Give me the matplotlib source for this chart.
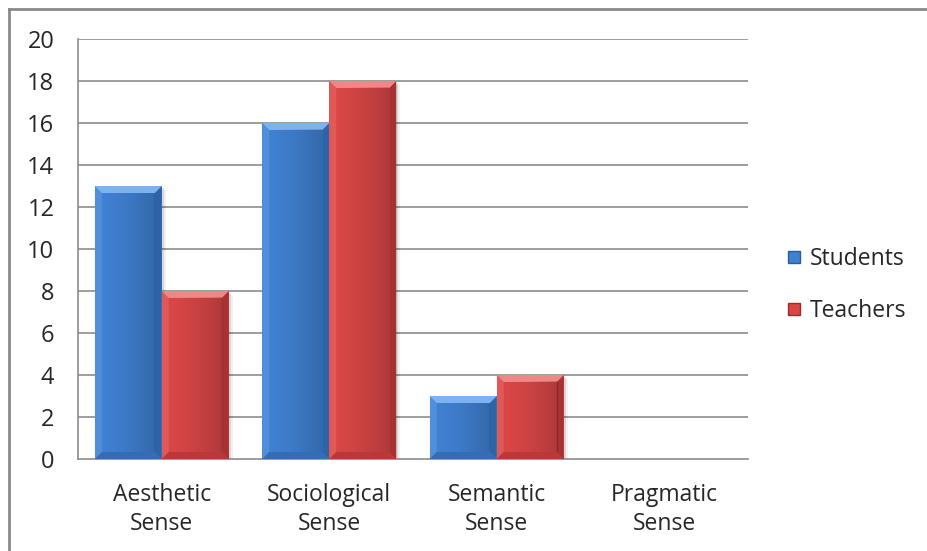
import numpy as np
import matplotlib
matplotlib.use("Agg")
import matplotlib.pyplot as plt
from matplotlib.patches import Polygon
from matplotlib.lines import Line2D

categories = ["Aesthetic\nSense", "Sociological\nSense", "Semantic\nSense", "Pragmatic\nSense"]
students = [13, 16, 3, 0]
teachers = [8, 18, 4, 0]
series_names = ["Students", "Teachers"]
y_ticks = [0, 2, 4, 6, 8, 10, 12, 14, 16, 18, 20]

# face, light bevel, dark bevel for each series
palette = {
    "Students": ("#4080d0", "#7cb2f2", "#2a5c9e"),
    "Teachers": ("#d84646", "#f08686", "#9c2c2c"),
}

plt.rcParams["font.family"] = ["Open Sans", "DejaVu Sans"]
text_color = "#262626"
grid_color = "#8c8c8c"

fig = plt.figure(figsize=(9.28, 5.51), dpi=100)
ax = fig.add_axes([78 / 928, 92 / 551, 670 / 928, 420 / 551])

x = np.arange(len(categories))
width = 0.4
ax.set_xlim(-0.5, len(categories) - 0.5)
ax.set_ylim(0, 20)


def beveled_bar(ax, xc, h, colors, bev_px=7):
    if h <= 0:
        return
    face, light, dark = colors
    to_disp = ax.transData.transform
    to_data = ax.transData.inverted().transform
    (x0, y0), (x1, y1) = to_disp([(xc - width / 2, 0), (xc + width / 2, h)])
    b = min(bev_px, (y1 - y0) / 2)
    # soft shadow behind the bar
    for k, a in ((4, 0.06), (2, 0.10)):
        sh = to_data([(x0 + k, y0 - k), (x1 + k, y0 - k), (x1 + k, y1 - k), (x0 + k, y1 - k)])
        ax.add_patch(Polygon(sh, closed=True, facecolor="black", alpha=a, lw=0, zorder=2))
    pts = {
        "body": [(x0, y0), (x1, y0), (x1, y1), (x0, y1)],
        "top": [(x0, y1), (x1, y1), (x1 - b, y1 - b), (x0 + b, y1 - b)],
        "right": [(x1, y1), (x1, y0), (x1 - b, y0 + b), (x1 - b, y1 - b)],
        "left": [(x0, y1), (x0 + b, y1 - b), (x0 + b, y0 + b), (x0, y0)],
        "bottom": [(x0, y0), (x1, y0), (x1 - b, y0 + b), (x0 + b, y0 + b)],
    }
    fills = {"body": (face, 1), "top": (light, 1), "right": (dark, 0.8),
             "left": (light, 0.3), "bottom": (dark, 0.5)}
    for key in ["body", "left", "bottom", "right", "top"]:
        c, a = fills[key]
        ax.add_patch(Polygon(to_data(pts[key]), closed=True, facecolor=c, alpha=a,
                             lw=0, zorder=3))
    # face gets a little darker toward its right side
    shade = np.zeros((1, 64, 4))
    shade[..., 3] = np.linspace(0, 0.18, 64) ** 1.5 / 0.18 ** 0.5
    (dx0, dy0), (dx1, dy1) = to_data([(x0 + b, y0 + b), (x1 - b, y1 - b)])
    ax.imshow(shade, extent=(dx0, dx1, dy0, dy1), aspect="auto",
              zorder=3.5, interpolation="bilinear")


for i in range(len(categories)):
    beveled_bar(ax, x[i] - width / 2, students[i], palette["Students"])
    beveled_bar(ax, x[i] + width / 2, teachers[i], palette["Teachers"])

ax.set_xlim(-0.5, len(categories) - 0.5)
ax.set_ylim(0, 20)
ax.set_yticks(y_ticks)
ax.set_xticks(x)
ax.set_xticklabels(categories, fontsize=16.5, color=text_color, linespacing=1.3)
ax.tick_params(axis="y", length=0, pad=17, labelsize=17, labelcolor=text_color)
ax.tick_params(axis="x", length=0, pad=17)
for t in y_ticks[1:]:
    ax.axhline(t, color=grid_color, lw=1.2, zorder=1)
for side in ["top", "right"]:
    ax.spines[side].set_visible(False)
for side in ["left", "bottom"]:
    ax.spines[side].set_color(grid_color)
    ax.spines[side].set_linewidth(1.2)

handles = [Line2D([], [], marker="s", ls="", markersize=9,
                  markerfacecolor=palette[n][0], markeredgecolor=palette[n][2])
           for n in series_names]
fig.legend(handles, series_names, loc="center left", bbox_to_anchor=(762 / 928, 1 - 285 / 551),
           frameon=False, fontsize=16.5, labelspacing=1.25, handletextpad=0.2,
           handlelength=1.0, labelcolor=text_color)

# chart frame along the top and left edges
fig.add_artist(Line2D([9 / 928, 9 / 928], [0, 1 - 9 / 551], color="#8a8a8a", lw=2))
fig.add_artist(Line2D([9 / 928, 1], [1 - 9 / 551, 1 - 9 / 551], color="#8a8a8a", lw=2))

fig.savefig("out.png", dpi=100)
